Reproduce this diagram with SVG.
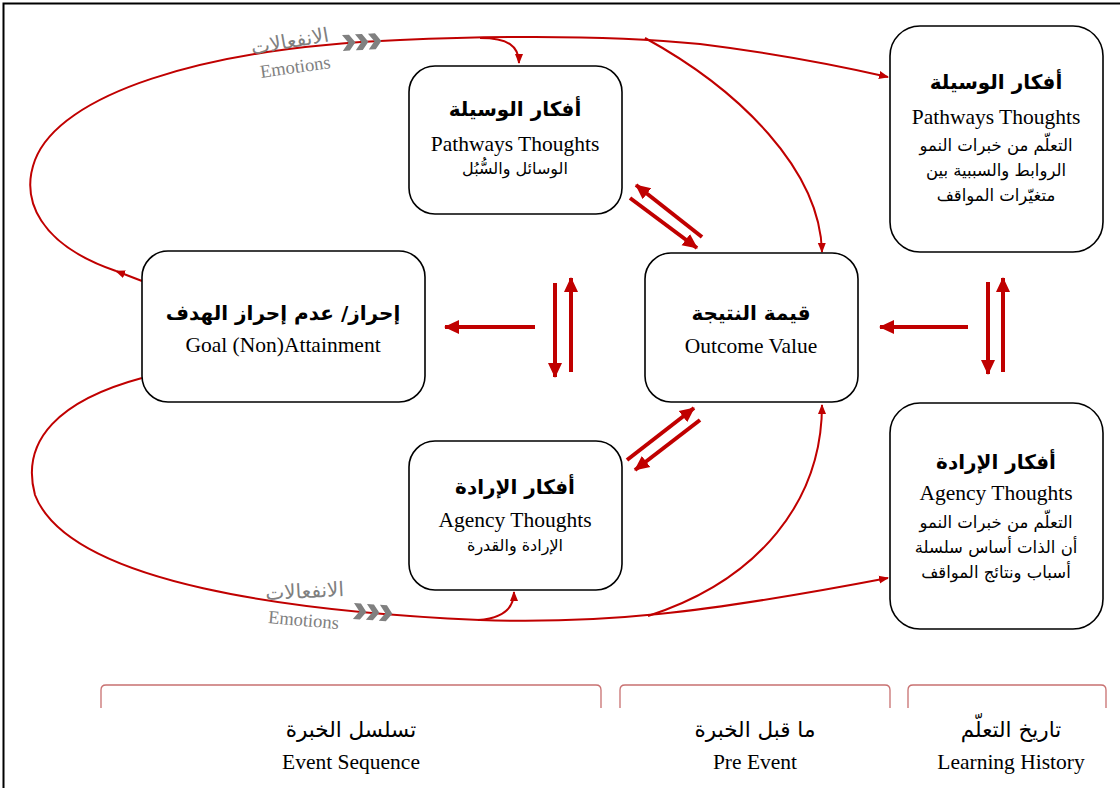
<svg xmlns="http://www.w3.org/2000/svg" width="1120" height="788" viewBox="0 0 1120 788">
<style>
.box{fill:#fff;stroke:#000;stroke-width:1.6}
.ar{font-family:"DejaVu Sans","Noto Sans",sans-serif;fill:#000;text-anchor:middle}
.arb{font-family:"DejaVu Sans","Noto Sans",sans-serif;font-weight:bold;font-size:20px;fill:#000;text-anchor:middle}
.en{font-family:"Liberation Serif",serif;font-size:21.5px;fill:#000;text-anchor:middle}
.thick{stroke:#c00000;stroke-width:4;fill:none}
.thin{stroke:#c00000;stroke-width:2;fill:none}
.brace{stroke:#c87070;stroke-width:1.3;fill:none}
.emo{fill:#808080}
</style>
<defs>
<marker id="big" markerUnits="userSpaceOnUse" markerWidth="16" markerHeight="16" refX="14" refY="8" orient="auto" viewBox="0 0 16 16">
<path d="M0,1 L15,8 L0,15 z" fill="#c00000"/>
</marker>
<marker id="small" markerUnits="userSpaceOnUse" markerWidth="10" markerHeight="10" refX="9" refY="5" orient="auto" viewBox="0 0 10 10">
<path d="M0,1 L10,5 L0,9 z" fill="#c00000"/>
</marker>
<polygon id="chev" points="0,0 7,0 13,8 7,16 0,16 6,8" class="emo"/>
</defs>
<rect x="3.5" y="3.5" width="1140" height="820" fill="#fff" stroke="#000" stroke-width="2"/>

<g id="connectors">
<path class="thin" d="M142,281 L116,271" marker-end="url(#small)"/>
<path class="thin" d="M116,271 C40,245 20,200 35,160 C60,95 200,48 400,40 C520,35 620,36 700,44 C780,54 840,66 888,77" marker-end="url(#small)"/>
<path class="thin" d="M480,38 C508,38 519,46 519,63" marker-end="url(#small)"/>
<path class="thin" d="M645,38 C740,90 820,170 822,252" marker-end="url(#small)"/>
<path class="thin" d="M142,378 C60,400 20,440 35,495 C70,585 300,612 480,620 C600,624 700,614 888,578" marker-end="url(#small)"/>
<path class="thin" d="M478,620 C506,618 514,606 514,592" marker-end="url(#small)"/>
<path class="thin" d="M648,616 C760,580 822,500 822,405" marker-end="url(#small)"/>

<line class="thick" x1="702" y1="237" x2="636" y2="185" marker-end="url(#big)"/>
<line class="thick" x1="630" y1="198" x2="697" y2="248" marker-end="url(#big)"/>
<line class="thick" x1="555" y1="283" x2="555" y2="377" marker-end="url(#big)"/>
<line class="thick" x1="571" y1="372" x2="571" y2="278" marker-end="url(#big)"/>
<line class="thick" x1="535" y1="327" x2="445" y2="327" marker-end="url(#big)"/>
<line class="thick" x1="968" y1="327" x2="880" y2="327" marker-end="url(#big)"/>
<line class="thick" x1="988" y1="282" x2="988" y2="374" marker-end="url(#big)"/>
<line class="thick" x1="1003" y1="372" x2="1003" y2="278" marker-end="url(#big)"/>
<line class="thick" x1="627" y1="460" x2="694" y2="408" marker-end="url(#big)"/>
<line class="thick" x1="700" y1="420" x2="635" y2="470" marker-end="url(#big)"/>
</g>

<g id="emotions-top">
<g transform="translate(342,35) rotate(-3)">
<use href="#chev"/><use href="#chev" x="13"/><use href="#chev" x="26"/>
</g>
<text class="ar" x="291" y="48" font-size="20" style="fill:#808080" transform="rotate(-10 291 48)">الانفعالات</text>
<text x="296" y="73" font-family="Liberation Serif,serif" font-size="18.5" fill="#808080" text-anchor="middle" transform="rotate(-8 296 73)">Emotions</text>
</g>
<g id="emotions-bottom">
<g transform="translate(354,603) rotate(4)">
<use href="#chev"/><use href="#chev" x="13"/><use href="#chev" x="26"/>
</g>
<text class="ar" x="305" y="598" font-size="20" style="fill:#808080" transform="rotate(-3 305 598)">الانفعالات</text>
<text x="303" y="626" font-family="Liberation Serif,serif" font-size="18.5" fill="#808080" text-anchor="middle" transform="rotate(5 303 626)">Emotions</text>
</g>

<g id="pathways-center">
<rect class="box" x="409" y="66" width="213" height="148" rx="26"/>
<text class="arb" x="515" y="116" direction="rtl">أفكار الوسيلة</text>
<text class="en" x="515" y="151">Pathways Thoughts</text>
<text class="ar" x="515" y="174" font-size="16" direction="rtl">الوسائل والسُّبُل</text>
</g>

<g id="goal">
<rect class="box" x="142" y="251" width="283" height="151" rx="26"/>
<text class="arb" x="283" y="320" direction="rtl">إحراز/ عدم إحراز الهدف</text>
<text class="en" x="283" y="352">Goal (Non)Attainment</text>
</g>

<g id="outcome">
<rect class="box" x="645" y="253" width="213" height="149" rx="26"/>
<text class="arb" x="751" y="320" direction="rtl">قيمة النتيجة</text>
<text class="en" x="751" y="353">Outcome Value</text>
</g>

<g id="agency-center">
<rect class="box" x="409" y="441" width="213" height="149" rx="26"/>
<text class="arb" x="515" y="494" direction="rtl">أفكار الإرادة</text>
<text class="en" x="515" y="527">Agency Thoughts</text>
<text class="ar" x="515" y="551" font-size="16" direction="rtl">الإرادة والقدرة</text>
</g>

<g id="pathways-history">
<rect class="box" x="890" y="26" width="213" height="226" rx="30"/>
<text class="arb" x="996" y="89" direction="rtl">أفكار الوسيلة</text>
<text class="en" x="996" y="124">Pathways Thoughts</text>
<text class="ar" x="996" y="151" font-size="16.5" direction="rtl">التعلّم من خبرات النمو</text>
<text class="ar" x="996" y="176" font-size="16.5" direction="rtl">الروابط والسببية بين</text>
<text class="ar" x="996" y="201" font-size="16.5" direction="rtl">متغيّرات المواقف</text>
</g>

<g id="agency-history">
<rect class="box" x="890" y="403" width="213" height="226" rx="30"/>
<text class="arb" x="996" y="469" direction="rtl">أفكار الإرادة</text>
<text class="en" x="996" y="500">Agency Thoughts</text>
<text class="ar" x="996" y="528" font-size="16.5" direction="rtl">التعلّم من خبرات النمو</text>
<text class="ar" x="996" y="553" font-size="16.5" direction="rtl">أن الذات أساس سلسلة</text>
<text class="ar" x="996" y="578" font-size="16.5" direction="rtl">أسباب ونتائج المواقف</text>
</g>

<g id="event-sequence">
<path class="brace" d="M101,708 L101,690 Q101,685 106,685 L596,685 Q601,685 601,690 L601,708"/>
<text class="ar" x="351" y="737" font-size="21.5" direction="rtl">تسلسل الخبرة</text>
<text class="en" x="351" y="769">Event Sequence</text>
</g>
<g id="pre-event">
<path class="brace" d="M620,708 L620,690 Q620,685 625,685 L885,685 Q890,685 890,690 L890,708"/>
<text class="ar" x="755" y="737" font-size="21.5" direction="rtl">ما قبل الخبرة</text>
<text class="en" x="755" y="769">Pre Event</text>
</g>
<g id="learning-history">
<path class="brace" d="M908,708 L908,690 Q908,685 913,685 L1101,685 Q1106,685 1106,690 L1106,708"/>
<text class="ar" x="1011" y="737" font-size="21.5" direction="rtl">تاريخ التعلّم</text>
<text class="en" x="1011" y="769">Learning History</text>
</g>
</svg>
